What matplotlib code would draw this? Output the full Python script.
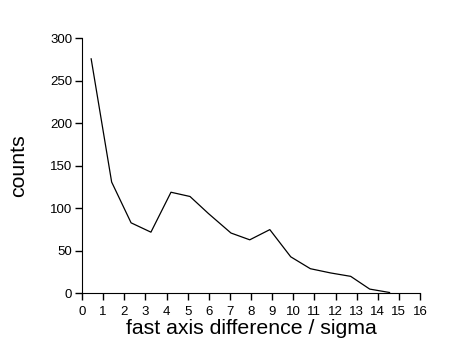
import matplotlib
matplotlib.use("Agg")
import matplotlib.pyplot as plt

# bin centres and counts
sigma_diff = [0.43, 1.40, 2.32, 3.26, 4.21, 5.11, 5.98, 7.05, 7.94, 8.89,
              9.88, 10.81, 11.77, 12.72, 13.62, 14.56]
counts = [276, 131, 83, 72, 119, 114, 94, 71, 63, 75,
          43, 29, 24, 20, 5, 1]

x_ticks = list(range(0, 17))
y_ticks = [0, 50, 100, 150, 200, 250, 300]

plt.rcParams['font.family'] = ['Liberation Sans', 'DejaVu Sans']

fig = plt.figure(figsize=(4.56, 3.56), dpi=100)
ax = fig.add_axes([0.18, 0.176, 0.741, 0.716])

ax.plot(sigma_diff, counts, color='black', linewidth=0.9)

ax.set_xlim(0, 16)
ax.set_ylim(0, 300)
ax.set_xticks(x_ticks)
ax.set_yticks(y_ticks)
ax.tick_params(direction='out', length=5, width=1, labelsize=9.5, pad=2)
ax.tick_params(axis='x', pad=4)

for side in ('top', 'right'):
    ax.spines[side].set_visible(False)

ax.set_xlabel('fast axis difference / sigma', fontsize=15.3, labelpad=1)
ax.set_ylabel('counts', fontsize=15.3, labelpad=16)

fig.savefig('out.png', dpi=100)
